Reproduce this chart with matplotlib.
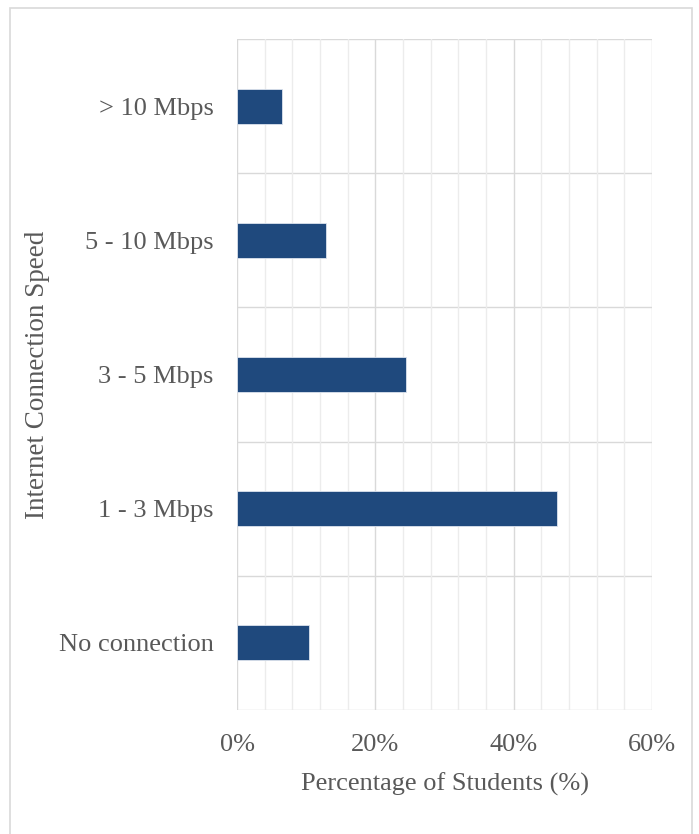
import matplotlib
matplotlib.use("Agg")
import matplotlib.pyplot as plt
from matplotlib.patches import Rectangle
from matplotlib.ticker import MultipleLocator, FuncFormatter
import numpy as np

categories = ["No connection", "1 - 3 Mbps", "3 - 5 Mbps", "5 - 10 Mbps", "> 10 Mbps"]
shares = [10.4, 46.3, 24.4, 12.9, 6.5]
x_ticks = [0, 20, 40, 60]

plt.rcParams["font.family"] = ["Liberation Serif", "DejaVu Serif"]
text_color = "#595959"

fig = plt.figure(figsize=(6.99, 8.34), dpi=100)
fig.patches.append(Rectangle((10 / 699, -0.01), 682 / 699, 1 - 7.5 / 834 + 0.01,
                             transform=fig.transFigure, fill=False,
                             edgecolor="#d9d9d9", linewidth=1.2, zorder=0))

ax = fig.add_axes([237 / 699, 1 - 710 / 834, (652 - 237) / 699, (710 - 39) / 834])

y = np.arange(len(categories))
ax.barh(y, shares, height=0.26, color="#1f497d", edgecolor="#dce3ee",
        linewidth=0.6, zorder=3)

ax.set_xlim(0, 60)
ax.set_ylim(-0.5, len(categories) - 0.5)
ax.set_xticks(x_ticks)
ax.xaxis.set_major_formatter(FuncFormatter(lambda v, p: f"{v:.0f}%"))
ax.xaxis.set_minor_locator(MultipleLocator(4))
ax.set_yticks(y)
ax.set_yticklabels(categories)

# category separators
for b in np.arange(-0.5, len(categories), 1.0):
    ax.axhline(b, color="#d9d9d9", linewidth=1.0, zorder=1)
ax.grid(axis="x", which="major", color="#d9d9d9", linewidth=1.0, zorder=1)
ax.grid(axis="x", which="minor", color="#ececec", linewidth=1.0, zorder=1)
ax.axvline(0, color="#d9d9d9", linewidth=1.2, zorder=2)

for s in ax.spines.values():
    s.set_visible(False)
ax.tick_params(axis="both", which="both", length=0, labelsize=19, colors=text_color)
ax.tick_params(axis="x", pad=17)
ax.tick_params(axis="y", pad=17)

ax.set_xlabel("Percentage of Students (%)", fontsize=19, color=text_color, labelpad=12)
ax.set_ylabel("Internet Connection Speed", fontsize=19.5, color=text_color, labelpad=6)

fig.savefig("out.png", dpi=100, facecolor="white")
